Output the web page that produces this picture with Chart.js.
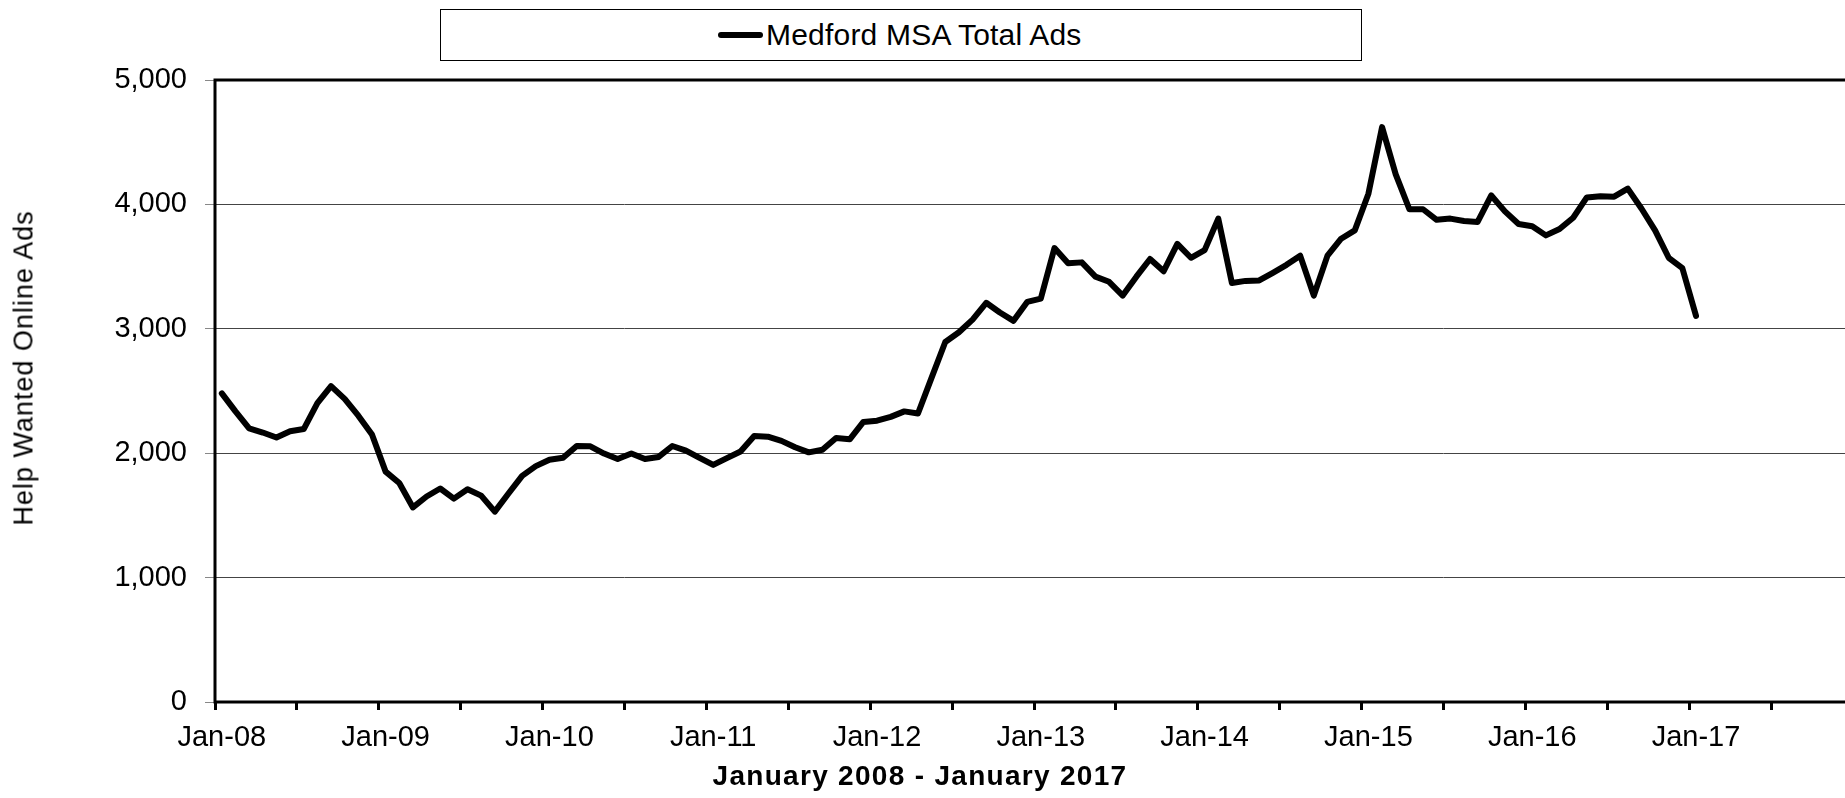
<!DOCTYPE html>
<html>
<head>
<meta charset="utf-8">
<title>Medford MSA Total Ads</title>
<script src="https://cdn.jsdelivr.net/npm/chart.js@4.4.1/dist/chart.umd.min.js"></script>
<style>
  html, body { margin:0; padding:0; background:#fff; overflow:hidden; }
  body { font-family:"Liberation Sans", Arial, sans-serif; color:#000; }
  #wrap { position:relative; width:1900px; height:798px; }
  #chart { position:absolute; left:0; top:0; }
  .legend { position:absolute; left:440px; top:9px; width:920px; height:50px; border:1px solid #000; background:#fff; }
  .legend .swatch { position:absolute; left:277px; top:22px; width:45px; height:6px; background:#000; border-radius:3px; }
  .legend .txt { position:absolute; left:325px; top:10px; font-size:30px; line-height:30px; letter-spacing:0.2px; white-space:nowrap; }
  .ytitle { position:absolute; left:24px; top:368px; transform:translate(-50%,-50%) rotate(-90deg); font-size:27px; line-height:27px; letter-spacing:1px; white-space:nowrap; }
  .xtitle { position:absolute; left:920px; top:776px; transform:translate(-50%,-50%); font-size:28px; line-height:28px; font-weight:bold; letter-spacing:1.3px; white-space:nowrap; }
</style>
</head>
<body>
<div id="wrap">
  <canvas id="chart"></canvas>
  <div class="legend"><span class="swatch"></span><span class="txt">Medford MSA Total Ads</span></div>
  <div class="ytitle">Help Wanted Online Ads</div>
  <div class="xtitle">January 2008 - January 2017</div>
</div>
<script>
// categories: one per month, Jan-08 .. Dec-17 (axis runs past the last value)
const MONTHS = ['Jan','Feb','Mar','Apr','May','Jun','Jul','Aug','Sep','Oct','Nov','Dec'];
const YEARS = ['08','09','10','11','12','13','14','15','16','17'];
const LABELS = YEARS.flatMap(y => MONTHS.map(m => m + '-' + y));

// Medford MSA total help wanted online ads, Jan-08 .. Jan-17
const TOTAL_ADS = [
  2481, 2336, 2200, 2166, 2126, 2177, 2194, 2403, 2539, 2437, 2302, 2150, // 2008
  1852, 1760, 1564, 1652, 1716, 1635, 1710, 1659, 1530, 1676, 1818, 1896, // 2009
  1947, 1963, 2058, 2055, 1997, 1953, 1997, 1953, 1970, 2058, 2021, 1963, // 2010
  1906, 1960, 2014, 2139, 2133, 2099, 2048, 2007, 2028, 2123, 2112, 2251, // 2011
  2261, 2292, 2336, 2319, 2607, 2894, 2972, 3074, 3209, 3131, 3064, 3216, // 2012
  3243, 3649, 3527, 3534, 3419, 3378, 3267, 3419, 3561, 3463, 3683, 3571, // 2013
  3632, 3886, 3368, 3385, 3389, 3450, 3514, 3588, 3267, 3588, 3724, 3791, // 2014
  4086, 4621, 4242, 3961, 3961, 3876, 3886, 3866, 3859, 4072, 3944, 3842, // 2015
  3825, 3751, 3802, 3893, 4056, 4066, 4062, 4127, 3967, 3791, 3571, 3487, // 2016
  3104                                                                    // 2017
];

const Y_MIN = 0, Y_MAX = 5000, Y_STEP = 1000;

const FONT = '"Liberation Sans", Arial, sans-serif';
Chart.defaults.font.family = FONT;
Chart.defaults.color = '#000';

// thick black frame round the plot area
const frame = {
  id: 'frame',
  beforeDatasetsDraw(chart){
    const {ctx, chartArea:a} = chart;
    ctx.save();
    ctx.strokeStyle = '#000';
    ctx.lineWidth = 3;
    ctx.strokeRect(a.left, a.top, a.right - a.left, a.bottom - a.top);
    ctx.restore();
  }
};

new Chart(document.getElementById('chart'), {
  type: 'line',
  data: {
    labels: LABELS,
    datasets: [{
      label: 'Medford MSA Total Ads',
      data: TOTAL_ADS,
      borderColor: '#000',
      borderWidth: 6,
      pointRadius: 0,
      tension: 0,
      fill: false,
      borderJoinStyle: 'round',
      borderCapStyle: 'round'
    }]
  },
  options: {
    responsive: true,
    maintainAspectRatio: false,
    animation: false,
    devicePixelRatio: 1,
    layout: { padding: { top: 80, right: 47, bottom: 0, left: 0 } },
    plugins: { legend: { display: false }, tooltip: { enabled: false } },
    scales: {
      x: {
        type: 'category',
        offset: true,
        border: { display: false },
        grid: {
          offset: true,
          drawOnChartArea: false,
          drawTicks: true,
          tickLength: 8,
          tickWidth: 3,
          tickColor: c => (c.index % 6 === 0 ? '#000' : 'rgba(0,0,0,0)')
        },
        ticks: {
          autoSkip: false,
          maxRotation: 0,
          minRotation: 0,
          padding: 11,
          color: '#000',
          font: { size: 29 },
          callback(v, i){ return i % 12 === 0 ? this.getLabelForValue(v) : ''; }
        },
        afterFit(s){ s.height = 96; }
      },
      y: {
        min: Y_MIN,
        max: Y_MAX,
        border: { display: false },
        grid: { color: '#444', lineWidth: 1, tickLength: 10, tickColor: '#888' },
        ticks: {
          stepSize: Y_STEP,
          padding: 18,
          color: '#000',
          font: { size: 29 },
          callback: v => v.toLocaleString('en-US')
        },
        afterFit(s){ s.width = 215; }
      }
    }
  },
  plugins: [frame]
});
</script>
</body>
</html>
